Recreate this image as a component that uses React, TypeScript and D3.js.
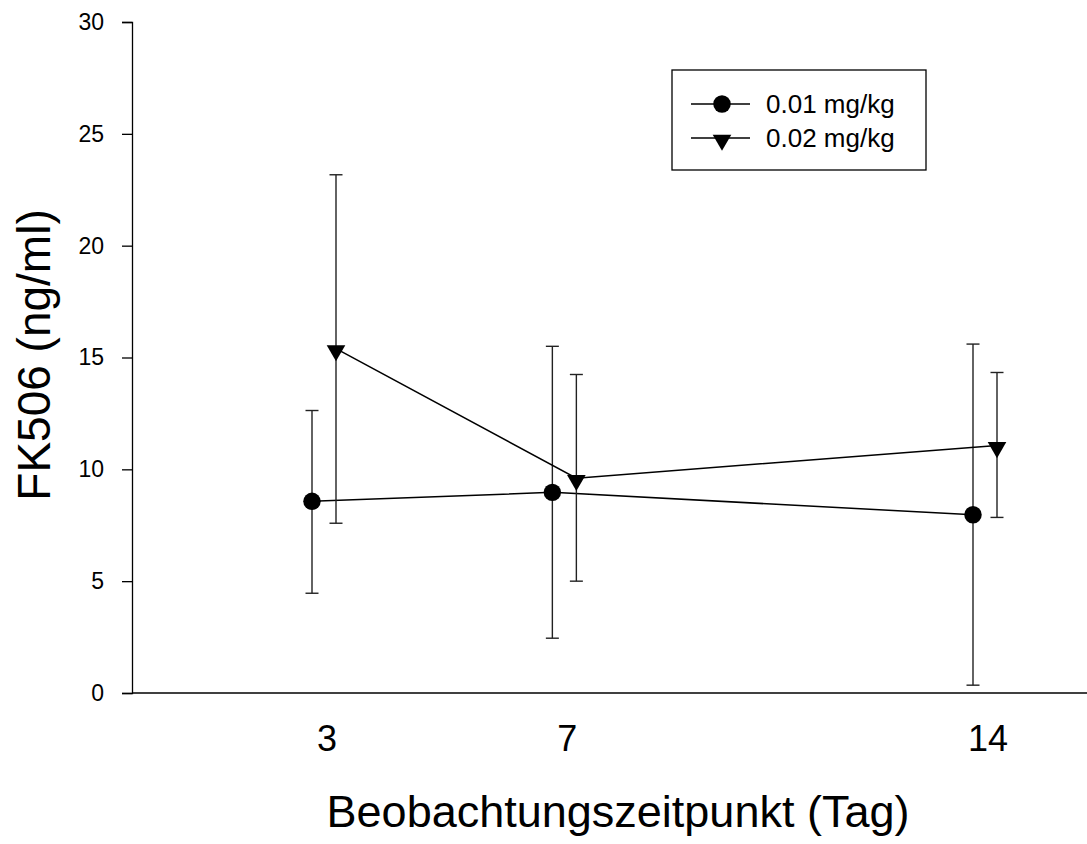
import React, { useEffect, useRef } from 'react';
import * as d3 from 'd3';

// Beobachtungszeitpunkte (Tag)
const days = [3, 7, 14];
const yTicks = [0, 5, 10, 15, 20, 25, 30];

// 0.01 mg/kg
const lowMean = [8.57, 8.97, 7.97];
const lowUpper = [12.63, 15.5, 15.6];
const lowLower = [4.46, 2.45, 0.35];

// 0.02 mg/kg
const highMean = [15.4, 9.6, 11.07];
const highUpper = [23.17, 14.24, 14.33];
const highLower = [7.59, 5.0, 7.85];

const seriesNames = ['0.01 mg/kg', '0.02 mg/kg'];

const App = () => {
  const svgRef = useRef<SVGSVGElement>(null);

  useEffect(() => {
    const svg = d3.select(svgRef.current);
    svg.selectAll('*').remove();

    const font = 'Arial, "Liberation Sans", sans-serif';
    const x = d3.scaleLinear().domain([3, 14]).range([324, 985]);
    const y = d3.scaleLinear().domain([0, 30]).range([693, 22]);
    const offset = 12;

    // axes
    const yAxis = svg.append('g')
      .attr('transform', 'translate(132,0)')
      .call(d3.axisLeft(y).tickValues(yTicks).tickSize(10).tickPadding(18));
    yAxis.select('.domain').attr('stroke', '#000').attr('stroke-width', 1.3);
    yAxis.selectAll('.tick line').attr('stroke-width', 1.3);
    yAxis.selectAll('text').attr('font-family', font).attr('font-size', 23).attr('fill', '#000');

    svg.append('line')
      .attr('x1', 132).attr('x2', 1087)
      .attr('y1', y(0)).attr('y2', y(0))
      .attr('stroke', '#000').attr('stroke-width', 1.3);

    svg.selectAll('.xlab')
      .data(days)
      .enter().append('text')
      .attr('class', 'xlab')
      .attr('x', d => x(d) + 3)
      .attr('y', 751)
      .attr('text-anchor', 'middle')
      .attr('font-family', font)
      .attr('font-size', 36)
      .text(d => d);

    svg.append('text')
      .attr('x', 618)
      .attr('y', 827)
      .attr('text-anchor', 'middle')
      .attr('font-family', font)
      .attr('font-size', 45)
      .text('Beobachtungszeitpunkt (Tag)');

    svg.append('text')
      .attr('transform', 'translate(50,355) rotate(-90)')
      .attr('text-anchor', 'middle')
      .attr('font-family', font)
      .attr('font-size', 46)
      .text('FK506 (ng/ml)');

    const series = [
      { mean: lowMean, upper: lowUpper, lower: lowLower, dx: -offset, sym: d3.symbolCircle, size: 240, rot: 0 },
      { mean: highMean, upper: highUpper, lower: highLower, dx: offset, sym: d3.symbolTriangle, size: 150, rot: 180 },
    ];

    series.forEach(s => {
      const g = svg.append('g');
      // error bars
      days.forEach((d, i) => {
        const cx = x(d) + s.dx;
        g.append('line')
          .attr('x1', cx).attr('x2', cx)
          .attr('y1', y(s.upper[i])).attr('y2', y(s.lower[i]))
          .attr('stroke', '#222').attr('stroke-width', 1.4);
        [s.upper[i], s.lower[i]].forEach(v => {
          g.append('line')
            .attr('x1', cx - 6.5).attr('x2', cx + 6.5)
            .attr('y1', y(v)).attr('y2', y(v))
            .attr('stroke', '#222').attr('stroke-width', 1.4);
        });
      });

      const line = d3.line<number>()
        .x((_, i) => x(days[i]) + s.dx)
        .y(v => y(v));
      g.append('path')
        .datum(s.mean)
        .attr('d', line)
        .attr('fill', 'none')
        .attr('stroke', '#000')
        .attr('stroke-width', 1.5);

      g.selectAll('.pt')
        .data(s.mean)
        .enter().append('path')
        .attr('d', d3.symbol().type(s.sym).size(s.size)())
        .attr('transform', (v, i) => `translate(${x(days[i]) + s.dx},${y(v) + (s.rot ? 2 : 0)}) rotate(${s.rot})`)
        .attr('fill', '#000');
    });

    // legend
    const lg = svg.append('g');
    lg.append('rect')
      .attr('x', 672).attr('y', 70)
      .attr('width', 254).attr('height', 100)
      .attr('fill', 'none').attr('stroke', '#000').attr('stroke-width', 1.3);
    series.forEach((s, i) => {
      const ly = 104 + i * 34;
      lg.append('line')
        .attr('x1', 691).attr('x2', 750)
        .attr('y1', ly).attr('y2', ly)
        .attr('stroke', '#000').attr('stroke-width', 1.5);
      lg.append('path')
        .attr('d', d3.symbol().type(s.sym).size(s.size)())
        .attr('transform', `translate(722,${ly + (s.rot ? 2 : 0)}) rotate(${s.rot})`)
        .attr('fill', '#000');
      lg.append('text')
        .attr('x', 766).attr('y', ly + 9)
        .attr('font-family', font)
        .attr('font-size', 26)
        .text(seriesNames[i]);
    });
  }, []);

  return (
    <svg ref={svgRef} width={1087} height={844}
      style={{ position: 'absolute', left: 0, top: 0, background: '#fff' }} />
  );
};

export default App;
